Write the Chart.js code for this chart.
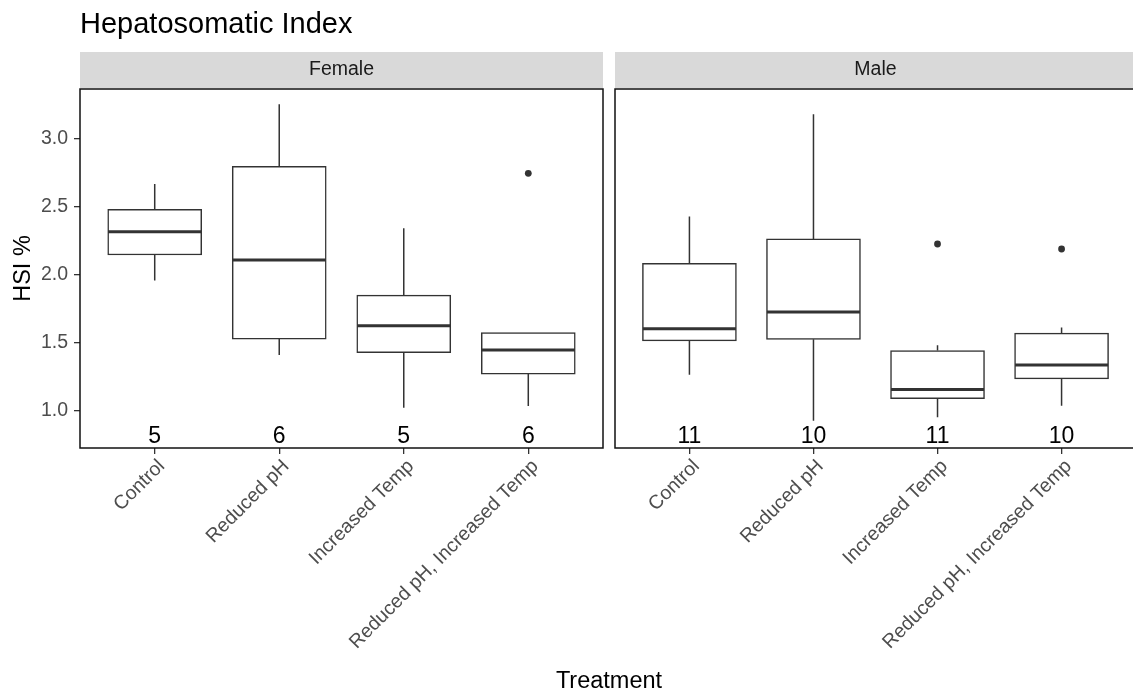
<!DOCTYPE html>
<html><head><meta charset="utf-8">
<script src="https://cdn.jsdelivr.net/npm/chart.js@4/dist/chart.umd.min.js"></script>
<style>
html,body{margin:0;padding:0;background:#fff;overflow:hidden;width:1133px;height:696px;}
#wrap{position:relative;width:1133px;height:696px;overflow:hidden;background:#fff;}
canvas{position:absolute;left:0;top:0;}
</style></head><body>
<div id="wrap"><canvas id="cF" width="1140" height="696"></canvas><canvas id="cM" width="1140" height="696"></canvas></div>
<script>
// ---------- data ----------
const chartTitle = 'Hepatosomatic Index';
const xTitle = 'Treatment';
const yTitle = 'HSI %';
const panelNames = ['Female', 'Male'];
const treatments = ['Control', 'Reduced pH', 'Increased Temp', 'Reduced pH, Increased Temp'];
const treatmentPos = [1, 2, 3, 4];
const yTicks = [1.0, 1.5, 2.0, 2.5, 3.0];

const femaleLow      = [1.955, 1.409, 1.022, 1.034];
const femaleQ1       = [2.143, 1.526, 1.426, 1.269];
const femaleMedian   = [2.314, 2.106, 1.624, 1.446];
const femaleQ3       = [2.479, 2.794, 1.849, 1.573];
const femaleHigh     = [2.664, 3.250, 2.339, 1.573];
const femaleOutliers = [[], [], [], [2.743]];
const femaleN        = [5, 6, 5, 6];

const maleLow      = [1.264, 0.927, 0.951, 1.037];
const maleQ1       = [1.512, 1.524, 1.089, 1.233];
const maleMedian   = [1.602, 1.725, 1.155, 1.335];
const maleQ3       = [2.082, 2.261, 1.441, 1.570];
const maleHigh     = [2.425, 3.176, 1.480, 1.610];
const maleOutliers = [[], [], [2.224], [2.187]];
const maleN        = [11, 10, 11, 10];

// ---------- layout / style ----------
const FONT = "'Liberation Sans', Arial, sans-serif";
const Y_MIN = 0.726, Y_MAX = 3.362;
const X_MIN = 0.4, X_MAX = 4.6;
const BOX_HALF = 0.375;
const N_LABEL_Y = 0.765;
const CANVAS_W = 1140;
const PANEL_TOP = 89, PANEL_BOTTOM = 448;
const FEMALE_L = 80, FEMALE_R = 603, MALE_L = 615, MALE_R = 1138;
const INK = '#333333';

function buildDatasets(low, q1, med, q3, high, outl) {
  const boxes = treatmentPos.map((p, i) => ({x: p, y: [q1[i], q3[i]]}));
  const whiskers = [];
  treatmentPos.forEach((p, i) => {
    if (high[i] > q3[i]) { whiskers.push({x: p, y: q3[i]}, {x: p, y: high[i]}, {x: p, y: null}); }
    if (low[i] < q1[i]) { whiskers.push({x: p, y: q1[i]}, {x: p, y: low[i]}, {x: p, y: null}); }
  });
  const medians = [];
  treatmentPos.forEach((p, i) => {
    medians.push({x: p - BOX_HALF, y: med[i]}, {x: p + BOX_HALF, y: med[i]}, {x: p, y: null});
  });
  const outliers = [];
  treatmentPos.forEach((p, i) => outl[i].forEach(v => outliers.push({x: p, y: v})));
  return [
    {type: 'bar', data: boxes, backgroundColor: '#ffffff', borderColor: INK, borderWidth: 1.5,
     borderSkipped: false, barThickness: 94, order: 3},
    {type: 'line', data: whiskers, borderColor: INK, borderWidth: 1.5, pointRadius: 0, spanGaps: false, fill: false, order: 2},
    {type: 'line', data: medians, borderColor: INK, borderWidth: 3, pointRadius: 0, spanGaps: false, fill: false, order: 1},
    {type: 'line', data: outliers, showLine: false, pointRadius: 3.4, pointBackgroundColor: INK, pointBorderWidth: 0, order: 0}
  ];
}

const decor = {
  id: 'decor',
  afterDraw(chart, args, o) {
    const ctx = chart.ctx, a = chart.chartArea;
    ctx.save();
    // strip
    ctx.fillStyle = '#D9D9D9';
    ctx.fillRect(a.left, a.top - 37, a.right - a.left, 36);
    ctx.fillStyle = '#1A1A1A';
    ctx.font = '19.5px ' + FONT;
    ctx.textAlign = 'center'; ctx.textBaseline = 'middle';
    ctx.fillText(o.panel, (a.left + a.right) / 2, a.top - 19);
    // n labels
    ctx.fillStyle = '#000000';
    ctx.font = '23px ' + FONT;
    ctx.textBaseline = 'alphabetic';
    const xs = chart.scales.x, ys = chart.scales.y;
    treatmentPos.forEach((p, i) => {
      ctx.fillText(String(o.n[i]), xs.getPixelForValue(p), ys.getPixelForValue(N_LABEL_Y));
    });
    // border
    ctx.strokeStyle = '#111111'; ctx.lineWidth = 1.5;
    ctx.strokeRect(a.left, a.top, a.right - a.left, a.bottom - a.top);
    if (o.main) {
      ctx.fillStyle = '#000000';
      ctx.textAlign = 'left';
      ctx.font = '29px ' + FONT;
      ctx.fillText(chartTitle, 80, 33);
      ctx.textAlign = 'center';
      ctx.textBaseline = 'middle';
      ctx.font = '23.5px ' + FONT;
      ctx.fillText(xTitle, (FEMALE_L + MALE_R) / 2, 682);
    }
    ctx.restore();
  }
};

function makeChart(id, panel, n, ds, left, right, showY) {
  return new Chart(document.getElementById(id), {
    type: 'bar',
    data: {datasets: ds},
    plugins: [decor],
    options: {
      responsive: false, animation: false, events: [],
      layout: {padding: {left: showY ? 0 : left, right: CANVAS_W - right, top: PANEL_TOP, bottom: 0}},
      plugins: {legend: {display: false}, tooltip: {enabled: false}, title: {display: false},
        decor: {panel: panel, n: n, main: showY}},
      scales: {
        x: {type: 'linear', min: X_MIN, max: X_MAX, offset: false,
          afterFit(s) { s.height = 696 - PANEL_BOTTOM; },
          afterBuildTicks(s) { s.ticks = treatmentPos.map(v => ({value: v})); },
          grid: {display: true, drawOnChartArea: false, drawTicks: true, tickLength: 6, color: INK, lineWidth: 1.3, offset: false},
          border: {display: false},
          ticks: {autoSkip: false, minRotation: 45, maxRotation: 45, padding: 1, labelOffset: 7, color: '#4D4D4D',
            font: {family: FONT, size: 19.5},
            callback: (v) => treatments[treatmentPos.indexOf(v)]}
        },
        y: {type: 'linear', display: showY, min: Y_MIN, max: Y_MAX,
          afterFit(s) { if (showY) s.width = left; },
          afterBuildTicks(s) { s.ticks = yTicks.map(v => ({value: v})); },
          grid: {display: true, drawOnChartArea: false, drawTicks: true, tickLength: 6, color: INK, lineWidth: 1.3},
          border: {display: false},
          title: {display: true, text: yTitle, color: '#000', font: {family: FONT, size: 23.5}, padding: {top: 9, bottom: 0}},
          ticks: {padding: 6, color: '#4D4D4D', font: {family: FONT, size: 19.5}, callback: v => v.toFixed(1)}
        }
      }
    }
  });
}

makeChart('cF', panelNames[0], femaleN,
  buildDatasets(femaleLow, femaleQ1, femaleMedian, femaleQ3, femaleHigh, femaleOutliers), FEMALE_L, FEMALE_R, true);
makeChart('cM', panelNames[1], maleN,
  buildDatasets(maleLow, maleQ1, maleMedian, maleQ3, maleHigh, maleOutliers), MALE_L, MALE_R, false);
</script>
</body></html>
